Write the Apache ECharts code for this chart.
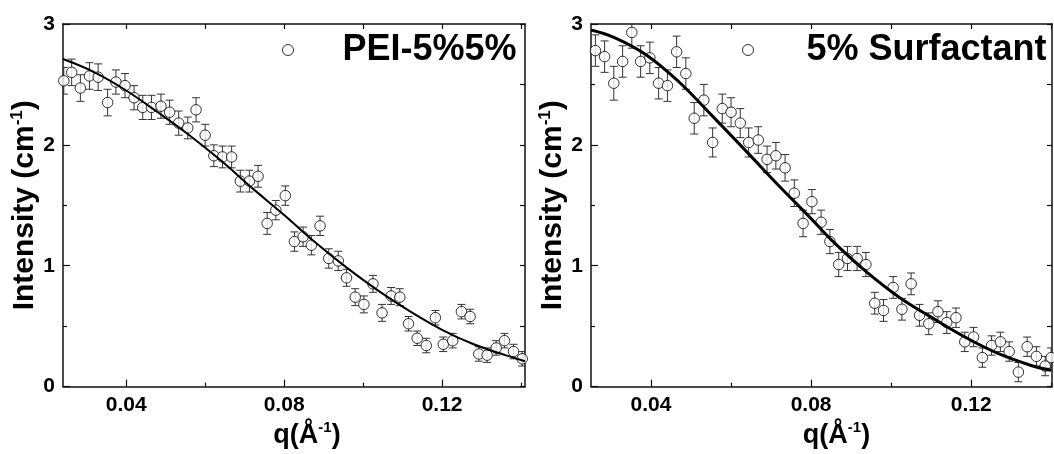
<!DOCTYPE html>
<html><head><meta charset="utf-8">
<script src="https://cdn.jsdelivr.net/npm/echarts@6/dist/echarts.min.js"></script>
<style>html,body{margin:0;padding:0;background:#fff}#c{width:1054px;height:454px}</style>
</head><body><div id="c"></div><script>
// ---- Panel 1: PEI-5%5% ----
const q1=[0.0242,0.0262,0.0284,0.0307,0.0329,0.0353,0.0374,0.0397,0.0420,0.0442,0.0464,0.0488,0.0510,0.0533,0.0556,0.0577,0.0600,0.0622,0.0644,0.0667,0.0689,0.0712,0.0734,0.0757,0.0779,0.0803,0.0826,0.0848,0.0869,0.0891,0.0913,0.0937,0.0958,0.0980,0.1002,0.1025,0.1048,0.1071,0.1093,0.1115,0.1137,0.1160,0.1183,0.1203,0.1227,0.1249,0.1271,0.1293,0.1314,0.1337,0.1358,0.1381,0.1403];
const I1=[2.53,2.60,2.47,2.57,2.56,2.35,2.52,2.49,2.39,2.31,2.31,2.32,2.27,2.18,2.14,2.29,2.08,1.91,1.90,1.90,1.70,1.70,1.74,1.35,1.46,1.58,1.20,1.24,1.17,1.33,1.06,1.04,0.90,0.74,0.68,0.85,0.61,0.75,0.74,0.52,0.40,0.34,0.57,0.35,0.38,0.62,0.58,0.27,0.26,0.32,0.38,0.29,0.23];
const E1=[0.11,0.11,0.11,0.11,0.11,0.11,0.10,0.10,0.10,0.10,0.10,0.10,0.10,0.10,0.09,0.10,0.09,0.09,0.09,0.09,0.09,0.09,0.09,0.09,0.08,0.08,0.08,0.08,0.08,0.08,0.08,0.08,0.07,0.07,0.07,0.07,0.07,0.07,0.07,0.06,0.06,0.06,0.06,0.06,0.06,0.06,0.06,0.06,0.06,0.06,0.06,0.06,0.06];
const fitQ1=[0.024,0.032,0.040,0.048,0.056,0.064,0.072,0.080,0.088,0.096,0.104,0.112,0.120,0.128,0.136,0.141];
const fitI1=[2.71,2.60,2.45,2.27,2.08,1.87,1.64,1.42,1.19,0.98,0.79,0.62,0.47,0.35,0.26,0.21];

// ---- Panel 2: 5% Surfactant ----
const q2=[0.0261,0.0284,0.0307,0.0329,0.0352,0.0374,0.0397,0.0419,0.0441,0.0464,0.0487,0.0508,0.0532,0.0554,0.0578,0.0600,0.0623,0.0644,0.0668,0.0690,0.0712,0.0735,0.0758,0.0780,0.0802,0.0825,0.0847,0.0869,0.0891,0.0915,0.0937,0.0959,0.0981,0.1005,0.1027,0.1050,0.1071,0.1094,0.1117,0.1139,0.1162,0.1184,0.1206,0.1228,0.1251,0.1273,0.1295,0.1318,0.1340,0.1363,0.1385,0.1400];
const I2=[2.78,2.73,2.51,2.69,2.93,2.69,2.72,2.51,2.49,2.77,2.59,2.22,2.37,2.02,2.30,2.27,2.18,2.02,2.04,1.88,1.91,1.81,1.60,1.35,1.53,1.36,1.20,1.01,1.06,1.06,1.01,0.69,0.63,0.82,0.64,0.85,0.59,0.52,0.62,0.53,0.57,0.37,0.41,0.24,0.34,0.37,0.29,0.12,0.33,0.25,0.17,0.24];
const E2=[0.13,0.13,0.14,0.13,0.13,0.13,0.13,0.13,0.13,0.13,0.13,0.13,0.13,0.12,0.12,0.12,0.12,0.12,0.11,0.11,0.11,0.11,0.11,0.11,0.10,0.10,0.10,0.10,0.10,0.10,0.10,0.09,0.09,0.09,0.09,0.09,0.09,0.09,0.09,0.09,0.08,0.08,0.08,0.08,0.08,0.08,0.08,0.08,0.08,0.08,0.08,0.08];
const fitQ2=[0.025,0.031,0.039,0.047,0.055,0.064,0.072,0.080,0.0855,0.094,0.102,0.110,0.119,0.127,0.135,0.140];
const fitI2=[2.95,2.885,2.74,2.52,2.25,1.94,1.66,1.39,1.20,0.945,0.74,0.575,0.40,0.27,0.175,0.135];

// ---- Axis ticks ----
const xMajor=[0.04,0.08,0.12];
const xMinor=[0.06,0.10,0.14];
const xTop=[0.04,0.06,0.08,0.10,0.12,0.14];
const yMax=3;

const FONT='"Liberation Sans", Arial, Helvetica, sans-serif';
const BLACK='#111';
const panels=[
  {name:'PEI-5%5%', q:q1, I:I1, E:E1, fq:fitQ1, fi:fitI1, xmin:0.024, xmax:0.1410, lw:2,
   grid:{left:63, right:529, top:24, bottom:55}, legendLeft:277, pad:44, nameShift:26},
  {name:'5% Surfactant', q:q2, I:I2, E:E2, fq:fitQ2, fi:fitI2, xmin:0.025, xmax:0.1402, lw:3,
   grid:{left:591, right:2, top:24, bottom:55}, legendLeft:737, pad:48, nameShift:30}
];

function renderErr(params, api){
  const x=api.value(0), lo=api.value(1), hi=api.value(2);
  const cs=params.coordSys;
  const p1=api.coord([x,lo]), p2=api.coord([x,hi]);
  const top=cs.y, bot=cs.y+cs.height;
  const style={stroke:'#333', lineWidth:1};
  const cw=4;
  const ch=[];
  const y1=Math.min(p1[1],bot), y2=Math.max(p2[1],top);
  ch.push({type:'line', shape:{x1:p1[0],y1:y1,x2:p1[0],y2:y2}, style});
  if(p1[1]<=bot) ch.push({type:'line', shape:{x1:p1[0]-cw,y1:p1[1],x2:p1[0]+cw,y2:p1[1]}, style});
  if(p2[1]>=top) ch.push({type:'line', shape:{x1:p2[0]-cw,y1:p2[1],x2:p2[0]+cw,y2:p2[1]}, style});
  return {type:'group', children:ch};
}

const axisLine={show:true, onZero:false, lineStyle:{color:BLACK, width:1.5}};
const tickStyle={color:BLACK, width:1.2};
const grids=[], xAxis=[], yAxis=[], series=[], legend=[];
panels.forEach((p,k)=>{
  grids.push(p.grid);
  const xb=xAxis.length, yb=yAxis.length;
  xAxis.push({gridIndex:k, type:'value', min:p.xmin, max:p.xmax, position:'bottom',
    axisLine, splitLine:{show:false},
    axisTick:{show:true, inside:true, length:7, customValues:xMajor, lineStyle:tickStyle},
    axisLabel:{show:true, customValues:xMajor, formatter:v=>v.toFixed(2), fontSize:21, fontWeight:'bold', fontFamily:FONT, color:'#000', margin:8},
    name:'{a|q(Å}{s|-1}{a|)}', nameLocation:'middle', nameGap:31,
    nameTextStyle:{padding:[0,0,0,p.nameShift], rich:{
      a:{fontSize:27, fontWeight:'bold', fontFamily:FONT, color:'#000', lineHeight:30},
      s:{fontSize:15, fontWeight:'bold', fontFamily:FONT, color:'#000', lineHeight:16, verticalAlign:'top'}}}
  });
  xAxis.push({gridIndex:k, type:'value', min:p.xmin, max:p.xmax, position:'bottom',
    axisLine:{show:false}, splitLine:{show:false}, axisLabel:{show:false},
    axisTick:{show:true, inside:true, length:4, customValues:xMinor, lineStyle:tickStyle}});
  xAxis.push({gridIndex:k, type:'value', min:p.xmin, max:p.xmax, position:'top',
    axisLine, splitLine:{show:false}, axisLabel:{show:false},
    axisTick:{show:true, inside:true, length:5, customValues:xTop, lineStyle:tickStyle}});
  yAxis.push({gridIndex:k, type:'value', min:0, max:yMax, interval:1, position:'left',
    axisLine, splitLine:{show:false},
    axisTick:{show:true, inside:true, length:7, lineStyle:tickStyle},
    minorTick:{show:true, splitNumber:2, length:4, lineStyle:tickStyle},
    minorSplitLine:{show:false},
    axisLabel:{fontSize:21, fontWeight:'bold', fontFamily:FONT, color:'#000', margin:8},
    name:'{a|Intensity (cm}{s|-1}{a|)}', nameLocation:'middle', nameRotate:90, nameGap:21,
    nameTextStyle:{rich:{
      a:{fontSize:30, fontWeight:'bold', fontFamily:FONT, color:'#000', lineHeight:32},
      s:{fontSize:17, fontWeight:'bold', fontFamily:FONT, color:'#000', lineHeight:18, verticalAlign:'top'}}}
  });
  yAxis.push({gridIndex:k, type:'value', min:0, max:yMax, interval:1, position:'right',
    axisLine, splitLine:{show:false}, axisLabel:{show:false},
    axisTick:{show:true, inside:true, length:5, lineStyle:tickStyle},
    minorTick:{show:true, splitNumber:2, length:5, lineStyle:tickStyle}});

  series.push({type:'custom', xAxisIndex:xb, yAxisIndex:yb, renderItem:renderErr, clip:true, z:1,
    data:p.q.map((x,i)=>[x, p.I[i]-p.E[i], p.I[i]+p.E[i]]), silent:true});
  series.push({type:'scatter', name:p.name, xAxisIndex:xb, yAxisIndex:yb, symbol:'circle', symbolSize:10.5, z:2,
    itemStyle:{color:'#fff', borderColor:'#000', borderWidth:1},
    data:p.q.map((x,i)=>[x, p.I[i]])});
  series.push({type:'line', xAxisIndex:xb, yAxisIndex:yb, smooth:0.4, showSymbol:false, z:3,
    lineStyle:{color:'#000', width:p.lw}, data:p.fq.map((x,i)=>[x, p.fi[i]])});
  legend.push({data:[{name:p.name, icon:'circle'}], left:p.legendLeft, top:27, itemWidth:11, itemHeight:11,
    selectedMode:false, itemStyle:{color:'#fff', borderColor:'#000', borderWidth:1},
    textStyle:{fontSize:36, fontWeight:'bold', fontFamily:FONT, color:'#000', padding:[0,0,0,p.pad]}});
});

const chart=echarts.init(document.getElementById('c'), null, {renderer:'canvas'});
chart.setOption({animation:false, backgroundColor:'#fff', grid:grids, xAxis, yAxis, series, legend});
</script></body></html>
